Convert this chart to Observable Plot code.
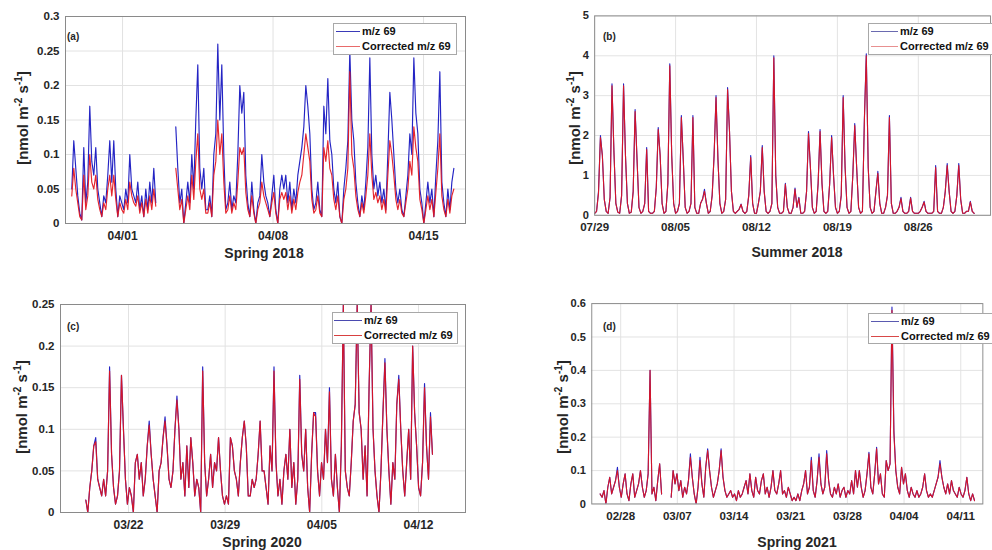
<!DOCTYPE html>
<html><head><meta charset="utf-8">
<script src="https://cdn.jsdelivr.net/npm/d3@7"></script>
<script src="https://cdn.jsdelivr.net/npm/@observablehq/plot@0.6"></script>
<style>
html,body{margin:0;padding:0;background:#fff;}
#wrap{position:relative;width:992px;height:550px;overflow:hidden;background:#fff;font-family:"Liberation Sans",Arial,sans-serif;color:#222;}
.panel{position:absolute;}
.panel svg text{font-weight:bold;fill:#262626;}
.lab{position:absolute;font-weight:bold;white-space:nowrap;color:#262626;}
.ylab{font-size:15px;transform:translate(-50%,-50%) rotate(-90deg);}
.ylab sup{font-size:10px;}
.xlab{font-size:14px;transform:translate(-50%,-50%);}
.tag{font-size:10px;}
.leg{position:absolute;background:#fff;border:1px solid #a8a8a8;box-sizing:border-box;font-weight:bold;font-size:11px;color:#111;}
.leg .row{height:15px;line-height:15px;white-space:nowrap;display:flex;align-items:center;}
.leg .smp{display:inline-block;height:0;border-top:1.2px solid;margin-right:2px;}
</style></head><body><div id="wrap"></div>
<script>
// ---------- tick labels / titles ----------
const seriesNames = ["m/z 69", "Corrected m/z 69"];
const panelTags = ["(a)", "(b)", "(c)", "(d)"];
const seasonLabels = ["Spring 2018", "Summer 2018", "Spring 2020", "Spring 2021"];
const aXTicks = ["2018-04-01", "2018-04-08", "2018-04-15"];
const bXTicks = ["2018-07-29", "2018-08-05", "2018-08-12", "2018-08-19", "2018-08-26"];
const cXTicks = ["2020-03-22", "2020-03-29", "2020-04-05", "2020-04-12"];
const dXTicks = ["2021-02-28", "2021-03-07", "2021-03-14", "2021-03-21", "2021-03-28", "2021-04-04", "2021-04-11"];
const aYTicks = [0, 0.05, 0.1, 0.15, 0.2, 0.25, 0.3];
const bYTicks = [0, 1, 2, 3, 4, 5];
const cYTicks = [0, 0.05, 0.1, 0.15, 0.2, 0.25];
const dYTicks = [0, 0.1, 0.2, 0.3, 0.4, 0.5, 0.6];

// ---------- series (evenly spaced samples between first and last time) ----------
const aTimes = ["2018-03-29T15:20", "2018-04-16T09:50"];
const aMz69 = [0.05,0.12,0.08,0.04,0.015,0.005,0.11,0.03,0.06,0.17,0.09,0.07,0.11,0.05,0.03,0.01,0.04,0.03,0.07,0.12,0.06,0.12,0.05,0.01,0.04,0.03,0.02,0.05,0.03,0.10,0.05,0.04,0.03,0.06,0.02,0.04,0.01,0.05,0.02,0.06,0.03,0.08,0.03,
null,null,null,null,null,null,null,null,null,
0.14,0.08,0.03,0.05,0.0,0.03,0.06,0.03,0.10,0.05,0.15,0.23,0.08,0.05,0.08,0.02,0.02,0.04,0.01,0.10,0.13,0.26,0.15,0.23,0.10,0.02,0.03,0.06,0.02,0.04,0.03,0.10,0.20,0.16,0.19,0.07,0.03,0.01,0.06,0.02,0.0,0.03,0.04,0.10,0.06,
0.04,0.03,0.01,0.04,0.07,0.02,0.0,0.05,0.07,0.05,0.07,0.03,0.06,0.02,0.05,0.03,0.07,0.09,0.11,0.14,0.20,0.17,0.13,0.05,0.02,0.03,0.06,0.02,0.01,0.17,0.13,0.21,0.12,0.10,0.05,0.03,0.06,0.01,0.0,0.05,0.08,0.12,0.25,0.15,0.12,0.06,0.03,0.01,0.04,0.02,0.06,0.11,0.24,0.10,0.05,0.07,0.04,0.06,0.03,0.05,0.02,0.10,0.19,0.15,0.10,0.05,0.03,0.05,0.02,0.01,0.04,0.07,0.13,0.10,0.24,0.16,0.13,0.05,0.03,0.0,0.03,0.06,0.03,0.05,0.01,0.07,0.12,0.22,0.06,0.03,0.01,0.05,0.02,0.06,0.08];
const aCorr = [0.04,0.08,0.05,0.03,0.01,0.005,0.07,0.02,0.04,0.10,0.06,0.05,0.07,0.035,0.02,0.01,0.03,0.02,0.05,0.07,0.04,0.07,0.035,0.01,0.03,0.02,0.015,0.035,0.02,0.06,0.04,0.03,0.025,0.04,0.015,0.03,0.01,0.035,0.015,0.04,0.02,0.05,0.025,
null,null,null,null,null,null,null,null,null,
0.08,0.05,0.02,0.035,0.0,0.02,0.04,0.02,0.07,0.035,0.09,0.13,0.05,0.035,0.05,0.015,0.015,0.03,0.01,0.07,0.09,0.15,0.10,0.13,0.06,0.015,0.02,0.04,0.015,0.03,0.02,0.06,0.11,0.10,0.11,0.045,0.02,0.01,0.04,0.015,0.0,0.02,0.03,0.06,0.04,
0.03,0.02,0.01,0.03,0.045,0.015,0.0,0.035,0.045,0.035,0.045,0.02,0.04,0.015,0.035,0.02,0.045,0.06,0.07,0.10,0.13,0.11,0.09,0.035,0.015,0.02,0.04,0.015,0.01,0.11,0.09,0.12,0.08,0.07,0.035,0.02,0.04,0.01,0.0,0.035,0.05,0.08,0.22,0.10,0.08,0.04,0.02,0.01,0.03,0.015,0.04,0.07,0.13,0.07,0.035,0.045,0.03,0.04,0.02,0.035,0.015,0.07,0.12,0.10,0.07,0.035,0.02,0.035,0.015,0.01,0.03,0.05,0.09,0.07,0.14,0.11,0.09,0.035,0.02,0.0,0.02,0.04,0.02,0.035,0.01,0.045,0.08,0.13,0.04,0.02,0.01,0.035,0.015,0.04,0.05];

const bTimes = ["2018-07-29T00:00", "2018-08-30T20:00"];
const bMz69 = [0.05,0.1,0.6,2.0,1.5,0.4,0.1,0.05,0.45,3.3,1.6,0.3,0.08,0.05,0.5,3.3,1.5,0.3,0.05,0.08,0.6,2.65,1.4,0.2,0.05,0.1,0.3,1.7,0.1,0.05,0.05,0.1,0.7,2.2,1.5,0.3,0.05,0.1,0.8,3.8,1.5,0.3,0.05,0.1,0.3,2.5,1.4,0.2,0.05,0.1,0.3,2.5,0.2,0.05,0.05,0.3,0.4,0.65,0.3,0.05,0.1,0.5,1.5,3.0,1.4,0.3,0.05,0.1,0.4,3.2,2.1,0.6,0.1,0.05,0.1,0.15,0.28,0.1,0.05,0.1,0.5,1.5,0.3,0.05,0.05,0.3,0.6,1.75,0.6,0.1,0.05,0.1,0.3,4.0,1.0,0.2,0.05,0.05,
0.1,0.8,0.2,0.05,0.05,0.2,0.68,0.2,0.45,0.05,0.05,0.1,0.6,2.1,1.2,0.2,0.05,0.1,0.8,2.15,0.8,0.1,0.05,0.1,0.8,2.0,1.0,0.2,0.05,0.1,0.5,3.0,1.2,0.2,0.05,0.1,1.0,2.3,1.2,0.2,0.05,0.1,2.4,4.05,1.2,0.2,0.05,0.1,0.6,1.1,0.3,0.05,0.05,0.2,0.5,2.5,0.3,0.05,0.05,0.1,0.2,0.45,0.1,0.05,0.05,0.1,0.45,0.1,0.05,0.05,0.05,0.1,0.2,0.35,0.1,0.05,0.05,0.05,0.1,1.25,0.1,0.05,0.05,0.2,0.6,1.3,0.6,0.1,0.05,0.1,0.5,1.3,0.4,0.05,0.05,0.1,0.1,0.35,0.1,0.05];
const bCorr = [0.05,0.1,0.55,1.95,1.5,0.4,0.1,0.05,0.45,3.25,1.6,0.3,0.08,0.05,0.5,3.25,1.5,0.3,0.05,0.08,0.6,2.6,1.4,0.2,0.05,0.1,0.3,1.65,0.1,0.05,0.05,0.1,0.7,2.15,1.5,0.3,0.05,0.1,0.8,3.75,1.5,0.3,0.05,0.1,0.3,2.45,1.4,0.2,0.05,0.1,0.3,2.45,0.2,0.05,0.05,0.3,0.4,0.6,0.3,0.05,0.1,0.5,1.5,2.95,1.4,0.3,0.05,0.1,0.4,3.15,2.1,0.6,0.1,0.05,0.1,0.15,0.27,0.1,0.05,0.1,0.5,1.45,0.3,0.05,0.05,0.3,0.6,1.7,0.6,0.1,0.05,0.1,0.3,3.95,1.0,0.2,0.05,0.05,
0.1,0.78,0.2,0.05,0.05,0.2,0.65,0.2,0.43,0.05,0.05,0.1,0.6,2.05,1.2,0.2,0.05,0.1,0.8,2.1,0.8,0.1,0.05,0.1,0.8,1.95,1.0,0.2,0.05,0.1,0.5,2.95,1.2,0.2,0.05,0.1,1.0,2.25,1.2,0.2,0.05,0.1,2.35,4.0,1.2,0.2,0.05,0.1,0.6,1.05,0.3,0.05,0.05,0.2,0.5,2.45,0.3,0.05,0.05,0.1,0.2,0.42,0.1,0.05,0.05,0.1,0.43,0.1,0.05,0.05,0.05,0.1,0.2,0.33,0.1,0.05,0.05,0.05,0.1,1.2,0.1,0.05,0.05,0.2,0.6,1.25,0.6,0.1,0.05,0.1,0.5,1.25,0.4,0.05,0.05,0.1,0.1,0.33,0.1,0.05];

const cTimes = ["2020-03-18T21:50", "2020-04-13T00:15"];
const cMz69 = [0.015,0.0,0.03,0.05,0.08,0.09,0.04,0.03,0.02,0.04,0.02,0.05,0.175,0.07,0.03,0.01,0.02,0.05,0.165,0.1,0.04,0.01,0.03,0.02,0.0,0.06,0.07,0.04,0.06,0.02,0.04,0.08,0.11,0.07,0.04,0.02,0.0,0.05,0.06,0.09,0.115,0.08,0.04,0.03,0.05,0.1,0.14,0.1,0.04,0.06,0.02,0.08,0.03,0.09,0.06,0.02,0.04,0.03,0.0,0.175,0.06,0.02,0.04,0.07,0.03,0.06,0.05,0.09,0.05,0.02,0.01,0.02,0.01,0.09,0.08,0.05,0.04,0.02,0.06,0.09,0.11,0.08,0.02,0.02,0.04,0.03,0.04,0.07,0.11,0.05,
0.05,0.03,0.01,0.08,0.05,0.175,0.06,0.02,0.04,0.01,0.05,0.07,0.04,0.1,0.03,0.06,0.01,0.04,0.165,0.07,0.05,0.1,0.03,0.0,0.07,0.12,0.12,0.05,0.02,0.06,0.04,0.1,0.06,0.15,0.04,0.02,0.07,0.03,0.0,0.08,0.25,0.05,0.03,0.02,0.06,0.11,0.13,0.25,0.12,0.1,0.04,0.08,0.02,0.15,0.25,0.1,0.05,0.02,0.0,0.05,0.12,0.185,0.1,0.05,0.01,0.06,0.04,0.13,0.165,0.1,0.05,0.02,0.06,0.1,0.04,0.2,0.12,0.08,0.03,0.02,0.06,0.155,0.08,0.04,0.12,0.07];
const cCorr = [0.015,0.0,0.03,0.05,0.08,0.085,0.04,0.03,0.02,0.04,0.02,0.05,0.17,0.07,0.03,0.01,0.02,0.05,0.165,0.1,0.04,0.01,0.03,0.02,0.0,0.06,0.07,0.04,0.06,0.02,0.04,0.08,0.105,0.07,0.04,0.02,0.0,0.05,0.06,0.09,0.11,0.08,0.04,0.03,0.05,0.1,0.135,0.1,0.04,0.06,0.02,0.08,0.03,0.09,0.06,0.02,0.04,0.03,0.0,0.17,0.06,0.02,0.04,0.07,0.03,0.06,0.05,0.09,0.05,0.02,0.01,0.02,0.01,0.09,0.08,0.05,0.04,0.02,0.06,0.09,0.11,0.08,0.02,0.02,0.04,0.03,0.04,0.07,0.11,0.05,
0.05,0.03,0.01,0.08,0.05,0.17,0.06,0.02,0.04,0.01,0.05,0.07,0.04,0.1,0.03,0.06,0.01,0.04,0.16,0.07,0.05,0.1,0.03,0.0,0.07,0.12,0.115,0.05,0.02,0.06,0.04,0.1,0.06,0.145,0.04,0.02,0.07,0.03,0.0,0.08,0.25,0.05,0.03,0.02,0.06,0.11,0.13,0.25,0.12,0.1,0.04,0.08,0.02,0.15,0.25,0.1,0.05,0.02,0.0,0.05,0.12,0.18,0.1,0.05,0.01,0.06,0.04,0.13,0.16,0.1,0.05,0.02,0.06,0.1,0.04,0.2,0.12,0.08,0.03,0.02,0.06,0.15,0.08,0.04,0.115,0.07];

const dTimes = ["2021-02-25T11:10", "2021-04-12T16:50"];
const dMz69 = [0.03,0.02,0.04,0.0,0.05,0.08,0.03,0.05,0.07,0.11,0.05,0.02,0.06,0.09,0.03,0.01,0.06,0.09,0.02,0.04,0.06,0.1,0.05,0.02,0.04,0.09,0.4,0.03,0.05,0.01,0.07,0.12,0.03,null,null,null,null,
0.02,0.1,0.06,0.09,0.04,0.07,0.02,0.05,0.03,0.07,0.15,0.08,0.03,0.0,0.05,0.14,0.06,0.02,0.11,0.165,0.1,0.05,0.02,0.04,0.06,0.1,0.165,0.08,0.04,0.02,0.03,0.04,0.02,0.03,0.01,0.04,0.02,0.03,0.05,0.07,0.03,0.09,0.04,0.02,0.08,0.04,0.03,0.07,0.09,0.03,0.05,0.02,0.05,0.1,0.04,0.03,0.06,0.1,
0.03,0.04,0.02,0.05,0.03,0.01,0.02,0.01,0.03,0.01,0.04,0.06,0.1,0.03,0.05,0.14,0.04,0.02,0.07,0.15,0.06,0.03,0.05,0.16,0.07,0.03,0.02,0.05,0.03,0.06,0.02,0.04,0.05,0.02,0.04,0.03,0.07,0.03,0.1,0.05,0.1,0.05,0.02,0.04,0.09,0.155,0.05,0.03,0.09,0.17,0.06,0.09,0.03,0.02,0.13,0.1,0.12,0.59,0.22,0.1,0.05,0.03,0.11,0.06,0.09,0.04,0.02,0.05,0.03,0.02,0.04,0.02,0.03,0.05,0.09,0.04,0.02,0.03,0.02,0.04,0.06,0.08,0.13,0.08,0.05,0.03,0.06,0.03,0.07,0.04,0.03,0.02,0.05,0.03,0.02,0.04,0.08,0.03,0.01,0.03,0.01];
const dCorr = [0.03,0.02,0.04,0.0,0.05,0.08,0.03,0.05,0.07,0.1,0.05,0.02,0.06,0.09,0.03,0.01,0.06,0.09,0.02,0.04,0.06,0.1,0.05,0.02,0.04,0.09,0.4,0.03,0.05,0.01,0.07,0.12,0.03,null,null,null,null,
0.02,0.1,0.06,0.09,0.04,0.07,0.02,0.05,0.03,0.07,0.14,0.08,0.03,0.0,0.05,0.13,0.06,0.02,0.11,0.16,0.1,0.05,0.02,0.04,0.06,0.1,0.16,0.08,0.04,0.02,0.03,0.04,0.02,0.03,0.01,0.04,0.02,0.03,0.05,0.07,0.03,0.09,0.04,0.02,0.08,0.04,0.03,0.07,0.09,0.03,0.05,0.02,0.05,0.1,0.04,0.03,0.06,0.1,
0.03,0.04,0.02,0.05,0.03,0.01,0.02,0.01,0.03,0.01,0.04,0.06,0.1,0.03,0.05,0.13,0.04,0.02,0.07,0.14,0.06,0.03,0.05,0.15,0.07,0.03,0.02,0.05,0.03,0.06,0.02,0.04,0.05,0.02,0.04,0.03,0.07,0.03,0.1,0.05,0.1,0.05,0.02,0.04,0.09,0.15,0.05,0.03,0.09,0.165,0.06,0.09,0.03,0.02,0.13,0.1,0.12,0.58,0.21,0.1,0.05,0.03,0.11,0.06,0.09,0.04,0.02,0.05,0.03,0.02,0.04,0.02,0.03,0.05,0.09,0.04,0.02,0.03,0.02,0.04,0.06,0.08,0.12,0.08,0.05,0.03,0.06,0.03,0.07,0.04,0.03,0.02,0.05,0.03,0.02,0.04,0.08,0.03,0.01,0.03,0.01];

// ---------- layout ----------
const BLUE = "#2424c4", RED = "#e3141c";
const wrap = document.getElementById("wrap");
const utc = s => new Date(s + (s.length === 10 ? "T00:00Z" : "Z"));

const panels = [
  {mz:aMz69, corr:aCorr, times:aTimes, xt:aXTicks, yt:aYTicks, dom:["2018-03-29T08:20","2018-04-16T22:50"],
   left:0, top:0, w:470, h:262, ml:65, mr:5, mt:16, mb:39,
   ylab:[22,118], xlab:[264,253], tag:[67,31], leg:{x:333,y:23,w:124,h:32,sw:24,pad:2}, legC:["#3a3ab8","#e86a6a"]},
  {mz:bMz69, corr:bCorr, times:bTimes, xt:bXTicks, yt:bYTicks, dom:["2018-07-29T00:00","2018-09-01T06:00"],
   left:520, top:0, w:490, h:262, ml:77, mr:2, mt:16, mb:39,
   ylab:[574,118], xlab:[797,252], tag:[603,31], leg:{x:868,y:23,w:140,h:32,sw:27,pad:2}, legC:["#6a6ab0","#e89090"]},
  {mz:cMz69, corr:cCorr, times:cTimes, xt:cXTicks, yt:cYTicks, dom:["2020-03-17T01:50","2020-04-15T09:40"],
   left:0, top:280, w:470, h:270, ml:60, mr:5, mt:24, mb:38,
   ylab:[21,407], xlab:[262,542], tag:[67,321], leg:{x:332,y:312,w:126,h:32,sw:28,pad:1}, legC:["#4a4ab0","#d84040"]},
  {mz:dMz69, corr:dCorr, times:dTimes, xt:dXTicks, yt:dYTicks, dom:["2021-02-24T10:20","2021-04-13T17:30"],
   left:520, top:280, w:490, h:270, ml:74, mr:10, mt:24, mb:38,
   ylab:[562,407], xlab:[797,542], tag:[603,321], leg:{x:868,y:313,w:140,h:31,sw:28,pad:2}, legC:["#5a5ab0","#d84848"]}
];

panels.forEach((p, k) => {
  const t0 = utc(p.times[0]).getTime(), t1 = utc(p.times[1]).getTime();
  const mk = (vals, s) => vals.map((v, i) => ({t: new Date(t0 + (t1 - t0) * i / (vals.length - 1)), v, s}));
  const blue = mk(p.mz, seriesNames[0]);
  const red = mk(p.corr, seriesNames[1]);
  const xt = p.xt.map(utc);
  const chart = Plot.plot({
    width: p.w, height: p.h,
    marginLeft: p.ml, marginRight: p.mr, marginTop: p.mt, marginBottom: p.mb,
    style: {fontFamily: "'Liberation Sans', Arial, sans-serif", background: "transparent", overflow: "visible"},
    x: {type: "utc", domain: p.dom.map(utc)},
    y: {domain: [p.yt[0], p.yt[p.yt.length - 1]]},
    marks: [
      Plot.gridX(xt, {stroke: "#e2e2e2", strokeOpacity: 1}),
      Plot.gridY(p.yt, {stroke: "#e2e2e2", strokeOpacity: 1}),
      Plot.line(blue, {x: "t", y: "v", stroke: BLUE, strokeWidth: 1.15, clip: true}),
      Plot.line(red, {x: "t", y: "v", stroke: RED, strokeWidth: 1.15, strokeOpacity: 0.92, clip: true}),
      Plot.frame({stroke: "#8a8a8a"}),
      Plot.axisX(xt, {tickFormat: d3.utcFormat("%m/%d"), tickSize: 0, tickPadding: 8, fontSize: 12, fontWeight: "bold", label: null}),
      Plot.axisY(p.yt, {tickFormat: d => String(d), tickSize: 0, tickPadding: 6, fontSize: 11.5, fontWeight: "bold", label: null})
    ]
  });
  const div = document.createElement("div");
  div.className = "panel";
  div.style.left = p.left + "px";
  div.style.top = p.top + "px";
  div.appendChild(chart);
  wrap.appendChild(div);

  const addLab = (cls, html, x, y) => {
    const e = document.createElement("div");
    e.className = "lab " + cls;
    e.innerHTML = html;
    e.style.left = x + "px";
    e.style.top = y + "px";
    wrap.appendChild(e);
  };
  addLab("ylab", "[nmol m<sup>-2</sup> s<sup>-1</sup>]", p.ylab[0], p.ylab[1]);
  addLab("xlab", seasonLabels[k], p.xlab[0], p.xlab[1]);
  addLab("tag", panelTags[k], p.tag[0], p.tag[1]);

  const leg = document.createElement("div");
  leg.className = "leg";
  Object.assign(leg.style, {left: p.leg.x + "px", top: p.leg.y + "px", width: p.leg.w + "px", height: p.leg.h + "px"});
  seriesNames.forEach((name, j) => {
    const row = document.createElement("div");
    row.className = "row";
    const smp = document.createElement("span");
    smp.className = "smp";
    smp.style.width = p.leg.sw + "px";
    smp.style.marginLeft = p.leg.pad + "px";
    smp.style.borderTopColor = p.legC[j];
    const tx = document.createElement("span");
    tx.textContent = name;
    row.appendChild(smp);
    row.appendChild(tx);
    leg.appendChild(row);
  });
  wrap.appendChild(leg);
});
</script>
</body></html>
